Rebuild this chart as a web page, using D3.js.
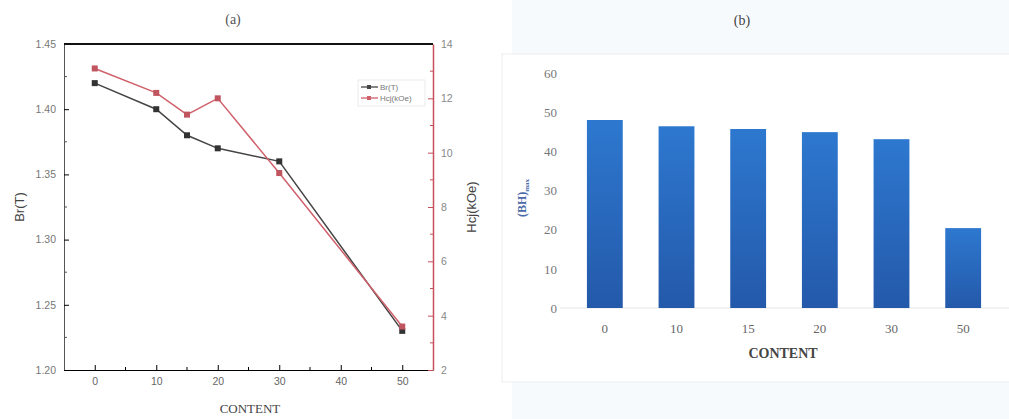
<!DOCTYPE html>
<html>
<head>
<meta charset="utf-8">
<script src="https://cdn.jsdelivr.net/npm/d3@7"></script>
<style>
  body { margin: 0; background: #fff; }
  svg { display: block; }
</style>
</head>
<body>
<div id="chart"></div>
<script>
// Panel (a) data
const contentA = [0, 10, 15, 20, 30, 50];
const brValues = [1.42, 1.40, 1.38, 1.37, 1.36, 1.23];
const hcjValues = [13.1, 12.2, 11.4, 12.0, 9.25, 3.6];

// Panel (b) data
const contentB = ["0", "10", "15", "20", "30", "50"];
const bhValues = [48.0, 46.4, 45.7, 44.9, 43.1, 20.4];
const bhTicks = [0, 10, 20, 30, 40, 50, 60];

const W = 1009, H = 419;
const serif = "Liberation Serif, Times New Roman, serif";
const sans = "Liberation Sans, Arial, sans-serif";

const svg = d3.select("#chart").append("svg")
    .attr("width", W)
    .attr("height", H);

// ---------- panel (a) ----------
  const ax = { left: 64, right: 433, top: 44, bottom: 370 };
  const x = d3.scaleLinear().domain([-5, 55]).range([ax.left, ax.right]);
  const yBr = d3.scaleLinear().domain([1.20, 1.45]).range([ax.bottom, ax.top]);
  const yHc = d3.scaleLinear().domain([2, 14]).range([ax.bottom, ax.top]);

  const gA = svg.append("g").style("font-family", sans);

  // bottom axis
  const xAxis = gA.append("g")
      .attr("transform", `translate(0,${ax.bottom})`)
      .call(d3.axisBottom(x).tickValues([0, 10, 20, 30, 40, 50]).tickSizeInner(-5).tickSizeOuter(0).tickPadding(8));
  xAxis.selectAll(".tick text").attr("fill", "#666").style("font-family", sans).style("font-size", "10.5px");
  xAxis.append("g").selectAll("line")
    .data([5, 15, 25, 35, 45])
    .join("line")
      .attr("x1", d => x(d)).attr("x2", d => x(d))
      .attr("y1", 0).attr("y2", -3)
      .attr("stroke", "#000");

  // left axis
  const yAxisL = gA.append("g")
      .attr("transform", `translate(${ax.left},0)`)
      .call(d3.axisLeft(yBr).tickValues([1.20, 1.25, 1.30, 1.35, 1.40, 1.45])
        .tickFormat(d3.format(".2f")).tickSizeInner(-5).tickSizeOuter(0).tickPadding(8));
  yAxisL.selectAll(".tick text").attr("fill", "#777").style("font-family", sans).style("font-size", "10.5px");
  yAxisL.select(".domain").attr("stroke", "#555");
  yAxisL.append("g").selectAll("line")
    .data([1.225, 1.275, 1.325, 1.375, 1.425])
    .join("line")
      .attr("x1", 0).attr("x2", 3)
      .attr("y1", d => yBr(d)).attr("y2", d => yBr(d))
      .attr("stroke", "#555");

  // right axis (red)
  const red = "#c8505c";
  const yAxisR = gA.append("g")
      .attr("transform", `translate(${ax.right},0)`)
      .call(d3.axisRight(yHc).tickValues([2, 4, 6, 8, 10, 12, 14]).tickSizeInner(-5).tickSizeOuter(0).tickPadding(8));
  yAxisR.selectAll(".tick line").attr("stroke", red);
  yAxisR.select(".domain").attr("stroke", red).attr("stroke-width", 1.5);
  yAxisR.selectAll(".tick text").attr("fill", "#888").style("font-family", sans).style("font-size", "10.5px");
  yAxisR.append("g").selectAll("line")
    .data([3, 5, 7, 9, 11, 13])
    .join("line")
      .attr("x1", 0).attr("x2", -3)
      .attr("y1", d => yHc(d)).attr("y2", d => yHc(d))
      .attr("stroke", red);

  // top border
  gA.append("line")
      .attr("x1", ax.left).attr("x2", ax.right)
      .attr("y1", ax.top).attr("y2", ax.top)
      .attr("stroke", "#111").attr("stroke-width", 2);

  // lines
  const brLine = d3.line().x((d, i) => x(contentA[i])).y(d => yBr(d));
  const hcLine = d3.line().x((d, i) => x(contentA[i])).y(d => yHc(d));

  gA.append("path").datum(brValues)
      .attr("d", brLine).attr("fill", "none").attr("stroke", "#444").attr("stroke-width", 1.5);
  gA.append("g").selectAll("rect").data(brValues).join("rect")
      .attr("x", (d, i) => x(contentA[i]) - 3).attr("y", d => yBr(d) - 3)
      .attr("width", 6).attr("height", 6).attr("fill", "#333");

  gA.append("path").datum(hcjValues)
      .attr("d", hcLine).attr("fill", "none").attr("stroke", "#d0606a").attr("stroke-width", 1.5);
  gA.append("g").selectAll("rect").data(hcjValues).join("rect")
      .attr("x", (d, i) => x(contentA[i]) - 3).attr("y", d => yHc(d) - 3)
      .attr("width", 6).attr("height", 6).attr("fill", "#c05560");

  // legend
  const lg = gA.append("g").attr("transform", "translate(358,80)");
  lg.append("rect").attr("x", 0).attr("y", 0).attr("width", 67).attr("height", 26)
      .attr("fill", "#fff").attr("stroke", "#ddd").attr("stroke-width", 0.6);
  const legendItems = [{ name: "Br(T)", color: "#444" }, { name: "Hcj(kOe)", color: "#d0606a" }];
  legendItems.forEach((it, i) => {
    const yy = 7 + i * 11;
    lg.append("line").attr("x1", 3).attr("x2", 20).attr("y1", yy).attr("y2", yy)
        .attr("stroke", it.color).attr("stroke-width", 1.3);
    lg.append("rect").attr("x", 9).attr("y", yy - 2).attr("width", 4).attr("height", 4).attr("fill", it.color);
    lg.append("text").attr("x", 22).attr("y", yy + 3).text(it.name)
        .style("font-size", "8px").attr("fill", "#777");
  });

  // titles and labels
  gA.append("text").attr("x", 233).attr("y", 24).attr("text-anchor", "middle")
      .style("font-family", serif).style("font-size", "14px").attr("fill", "#555")
      .text("(a)");
  gA.append("text").attr("x", 250).attr("y", 413).attr("text-anchor", "middle")
      .style("font-family", serif).style("font-size", "13px").attr("fill", "#444")
      .text("CONTENT");
  gA.append("text").attr("transform", "translate(24,207) rotate(-90)").attr("text-anchor", "middle")
      .style("font-size", "13px").attr("fill", "#444").text("Br(T)");
  gA.append("text").attr("transform", "translate(476,207) rotate(-90)").attr("text-anchor", "middle")
      .style("font-size", "13px").attr("fill", "#444").text("Hcj(kOe)");

// ---------- panel (b) ----------
  const gB = svg.append("g").style("font-family", serif);

  gB.append("rect").attr("x", 512).attr("y", 0).attr("width", W - 512).attr("height", H)
      .attr("fill", "#f7fafd");
  gB.append("rect").attr("x", 502).attr("y", 54).attr("width", W - 502 + 2).attr("height", 328)
      .attr("fill", "#fff").attr("stroke", "#e9edf1");

  const bx = d3.scaleBand().domain(contentB).range([569, 999]).paddingInner(0.5).paddingOuter(0.25);
  const by = d3.scaleLinear().domain([0, 60]).range([308, 73]);

  const defs = svg.append("defs");
  const grad = defs.append("linearGradient").attr("id", "barGrad")
      .attr("x1", 0).attr("x2", 0).attr("y1", 0).attr("y2", 1);
  grad.append("stop").attr("offset", "0%").attr("stop-color", "#2d78cf");
  grad.append("stop").attr("offset", "100%").attr("stop-color", "#2459aa");

  gB.append("line").attr("x1", 560).attr("x2", W).attr("y1", by(0)).attr("y2", by(0))
      .attr("stroke", "#e6e6e6");

  gB.append("g").selectAll("rect").data(bhValues).join("rect")
      .attr("x", (d, i) => bx(contentB[i]))
      .attr("y", d => by(d))
      .attr("width", bx.bandwidth())
      .attr("height", d => by(0) - by(d))
      .attr("fill", "url(#barGrad)");

  const yAxisB = gB.append("g")
      .attr("transform", "translate(557,0)")
      .call(d3.axisLeft(by).tickValues(bhTicks).tickSize(0).tickPadding(0));
  yAxisB.select(".domain").remove();
  yAxisB.selectAll(".tick text").attr("fill", "#777").style("font-family", serif).style("font-size", "13px");

  const xAxisB = gB.append("g")
      .attr("transform", `translate(0,${by(0)})`)
      .call(d3.axisBottom(bx).tickSize(0).tickPadding(16));
  xAxisB.select(".domain").remove();
  xAxisB.selectAll(".tick text").attr("fill", "#666").style("font-family", serif).style("font-size", "13px");

  gB.append("text").attr("x", 742).attr("y", 25).attr("text-anchor", "middle")
      .style("font-size", "14px").attr("fill", "#444").text("(b)");
  gB.append("text").attr("x", 783).attr("y", 358).attr("text-anchor", "middle")
      .style("font-size", "14px").style("font-weight", "bold").attr("fill", "#444").text("CONTENT");

  const yl = gB.append("text").attr("transform", "translate(526,198) rotate(-90)")
      .attr("text-anchor", "middle").style("font-weight", "bold").attr("fill", "#4a6aa8");
  yl.append("tspan").style("font-size", "12px").text("(BH)");
  yl.append("tspan").style("font-size", "7px").attr("dy", 3).text("max");
</script>
</body>
</html>
